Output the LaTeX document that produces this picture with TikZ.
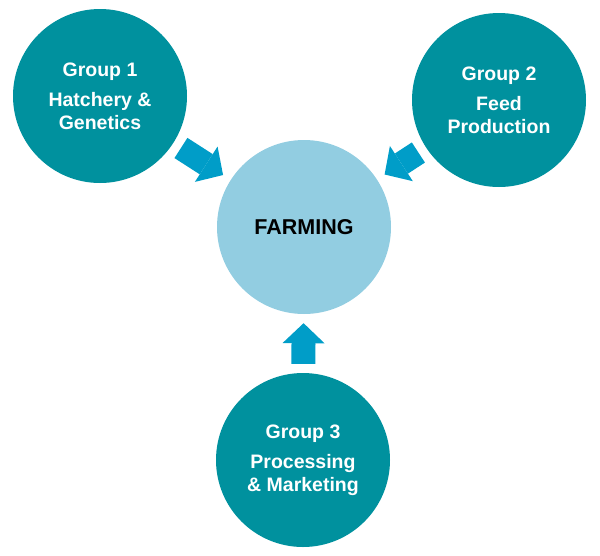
\documentclass[tikz,border=0pt]{standalone}
\usepackage{fontspec}
\setmainfont{Liberation Sans}
\usetikzlibrary{arrows.meta}
\definecolor{grpteal}{RGB}{0,145,158}
\definecolor{hubblue}{RGB}{146,205,225}
\definecolor{arrblue}{RGB}{0,157,200}
\begin{document}
\begin{tikzpicture}[x=1pt,y=-1pt,
  grp/.style={circle,fill=grpteal,minimum size=174pt,inner sep=0pt,text=white,align=center,font=\fontsize{19.5}{23}\selectfont\bfseries},
  hub/.style={circle,fill=hubblue,minimum size=174pt,inner sep=0pt,font=\fontsize{21.5}{26}\selectfont\bfseries},
  arr/.style={draw=arrblue,line width=24pt,-{Triangle[length=20pt,width=42pt,line width=0pt]},shorten <=9pt,shorten >=9pt}]
\useasboundingbox (0,0) rectangle (600,555);
\node[hub] (farm) at (304,227) {FARMING};
\node[grp] (g1) at (100,96) {Group 1\\[7pt]Hatchery \&\\Genetics};
\node[grp] (g2) at (499,100) {Group 2\\[7pt]Feed\\Production};
\node[grp] (g3) at (303,460) {Group 3\\[7pt]Processing\\\& Marketing};
\draw[arr] (g1) -- (farm);
\draw[arr] (g2) -- (farm);
\draw[arr] (g3) -- (farm);
\end{tikzpicture}
\end{document}
